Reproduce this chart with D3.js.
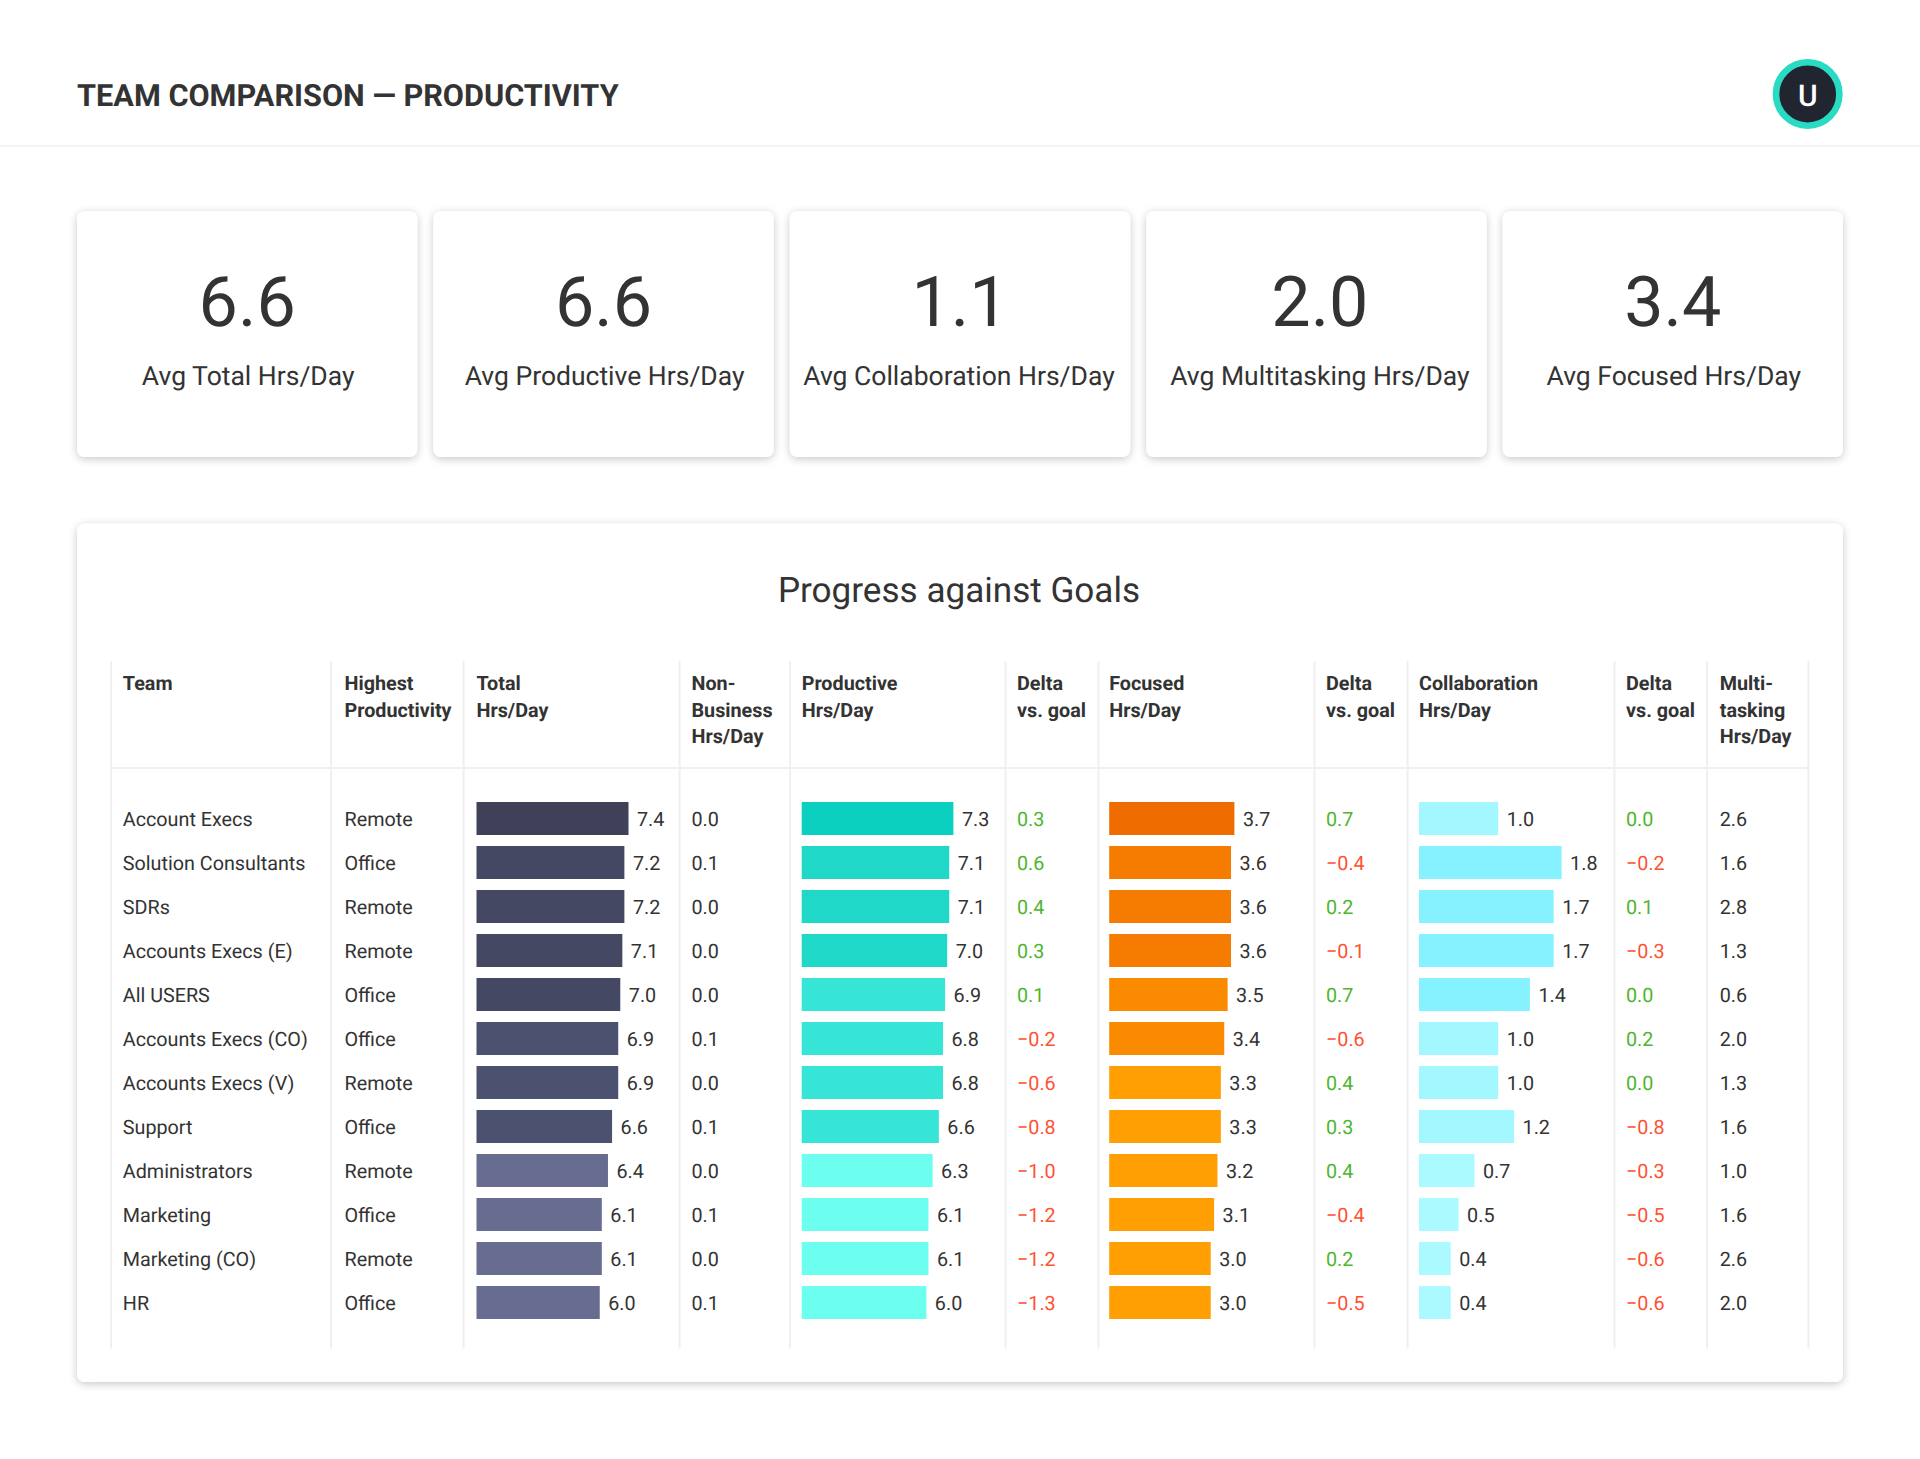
<!DOCTYPE html>
<html>
<head>
<meta charset="utf-8">
<script src="https://d3js.org/d3.v7.min.js"></script>
<style>
html, body { margin: 0; padding: 0; background: #fff; }
svg { display: block; font-family: Roboto, sans-serif; text-rendering: geometricPrecision; }
</style>
</head>
<body>
<div id="content"></div>
<script>
var w = 1920;
var h = 1459;

var pageTitle = "TEAM COMPARISON \u2014 PRODUCTIVITY";
var panelTitle = "Progress against Goals";
var avatarLetter = "U";

var cardValues = ["6.6", "6.6", "1.1", "2.0", "3.4"];
var cardLabels = ["Avg Total Hrs/Day", "Avg Productive Hrs/Day", "Avg Collaboration Hrs/Day", "Avg Multitasking Hrs/Day", "Avg Focused Hrs/Day"];

var teams = ["Account Execs", "Solution Consultants", "SDRs", "Accounts Execs (E)", "All USERS", "Accounts Execs (CO)", "Accounts Execs (V)", "Support", "Administrators", "Marketing", "Marketing (CO)", "HR"];
var highest = ["Remote", "Office", "Remote", "Remote", "Office", "Office", "Remote", "Office", "Remote", "Office", "Remote", "Office"];
var totalHrs = [7.4, 7.2, 7.2, 7.1, 7.0, 6.9, 6.9, 6.6, 6.4, 6.1, 6.1, 6.0];
var nonBusiness = [0.0, 0.1, 0.0, 0.0, 0.0, 0.1, 0.0, 0.1, 0.0, 0.1, 0.0, 0.1];
var productive = [7.3, 7.1, 7.1, 7.0, 6.9, 6.8, 6.8, 6.6, 6.3, 6.1, 6.1, 6.0];
var productiveDelta = [0.3, 0.6, 0.4, 0.3, 0.1, -0.2, -0.6, -0.8, -1.0, -1.2, -1.2, -1.3];
var focused = [3.7, 3.6, 3.6, 3.6, 3.5, 3.4, 3.3, 3.3, 3.2, 3.1, 3.0, 3.0];
var focusedDelta = [0.7, -0.4, 0.2, -0.1, 0.7, -0.6, 0.4, 0.3, 0.4, -0.4, 0.2, -0.5];
var collaboration = [1.0, 1.8, 1.7, 1.7, 1.4, 1.0, 1.0, 1.2, 0.7, 0.5, 0.4, 0.4];
var collaborationDelta = [0.0, -0.2, 0.1, -0.3, 0.0, 0.2, 0.0, -0.8, -0.3, -0.5, -0.6, -0.6];
var multitasking = [2.6, 1.6, 2.8, 1.3, 0.6, 2.0, 1.3, 1.6, 1.0, 1.6, 2.6, 2.0];

// column edges of the table, and what goes in each one
var colEdges = [111, 331, 463.5, 679.5, 790, 1005.5, 1098.5, 1314.5, 1407.5, 1614.5, 1707, 1808.5];
var columns = [
    { x: 122.8, head: ["Team"], kind: "text", values: teams },
    { x: 344.5, head: ["Highest", "Productivity"], kind: "text", values: highest },
    { x: 476.5, head: ["Total", "Hrs/Day"], kind: "bar", values: totalHrs, max: 7.4, width: 152, color: d3.scaleThreshold().domain([6.5, 6.95, 7.3]).range(["#676c90", "#4d5170", "#444862", "#3f4159"]) },
    { x: 691.5, head: ["Non-", "Business", "Hrs/Day"], kind: "num", values: nonBusiness },
    { x: 801.7, head: ["Productive", "Hrs/Day"], kind: "bar", values: productive, max: 7.3, width: 151.7, color: d3.scaleThreshold().domain([6.5, 6.95, 7.2]).range(["#6cfff0", "#36e5d6", "#20d8c8", "#0bcfbf"]) },
    { x: 1017, head: ["Delta", "vs. goal"], kind: "delta", values: productiveDelta },
    { x: 1109.2, head: ["Focused", "Hrs/Day"], kind: "bar", values: focused, max: 3.7, width: 125.2, color: d3.scaleThreshold().domain([3.35, 3.55, 3.65]).range(["#ff9f04", "#fa8b00", "#f57c00", "#ee6c00"]) },
    { x: 1326, head: ["Delta", "vs. goal"], kind: "delta", values: focusedDelta },
    { x: 1419, head: ["Collaboration", "Hrs/Day"], kind: "bar", values: collaboration, max: 1.8, width: 142.6, color: d3.scaleThreshold().domain([0.8, 1.3]).range(["#abfaff", "#a3f7ff", "#87f2ff"]) },
    { x: 1626, head: ["Delta", "vs. goal"], kind: "delta", values: collaborationDelta },
    { x: 1719.7, head: ["Multi-", "tasking", "Hrs/Day"], kind: "num", values: multitasking }
];

var textColor = "#333333";
var lineColor = "#f0f0f0";
var green = "#4fb52f";
var red = "#ff5233";
var rowH = 44;
var barH = 33;
var cardShift = [1, 1, -1, 3.5, 1];

var svg = d3.select("#content").append("svg").attr("width", w).attr("height", h).attr("viewBox", "0 0 " + w + " " + h);

// soft shadow under the cards
var shadow = svg.append("defs").append("filter").attr("id", "shadow")
    .attr("x", "-5%").attr("y", "-5%").attr("width", "110%").attr("height", "115%");
shadow.append("feDropShadow").attr("dx", 0).attr("dy", 2).attr("stdDeviation", 4)
    .attr("flood-color", "#000").attr("flood-opacity", 0.22);

function drawHeader() {
    svg.append("text").attr("x", 77).attr("y", 105.5)
        .attr("font-size", 30.7).attr("font-weight", 700).attr("fill", textColor).text(pageTitle);
    svg.append("line").attr("x1", 0).attr("x2", w).attr("y1", 146).attr("y2", 146)
        .attr("stroke", lineColor).attr("stroke-width", 1.5);
    svg.append("circle").attr("cx", 1807.7).attr("cy", 94).attr("r", 31.7)
        .attr("fill", "#212530").attr("stroke", "#2adbc3").attr("stroke-width", 6.6);
    svg.append("text").attr("x", 1807.7).attr("y", 106).attr("text-anchor", "middle")
        .attr("font-size", 30).attr("font-weight", 500).attr("fill", "#fff").text(avatarLetter);
}

function drawCards() {
    var cardX = d3.scaleBand().domain(d3.range(cardValues.length)).range([77, 1843]).paddingInner(16 / 356);
    var card = svg.selectAll("g.card").data(cardValues).enter().append("g").attr("class", "card")
        .attr("transform", (d, i) => "translate(" + cardX(i) + ",211)");
    card.append("rect").attr("width", cardX.bandwidth()).attr("height", 246).attr("rx", 8)
        .attr("fill", "#fff").attr("filter", "url(#shadow)");
    card.append("text").attr("x", (d, i) => cardX.bandwidth() / 2 + (i == 3 ? cardShift[i] : 0)).attr("y", 115).attr("text-anchor", "middle")
        .attr("font-size", 70).attr("fill", textColor).text(d => d);
    card.append("text").attr("x", (d, i) => cardX.bandwidth() / 2 + cardShift[i]).attr("y", 174).attr("text-anchor", "middle")
        .attr("font-size", 26.5).attr("fill", textColor).text((d, i) => cardLabels[i]);
}

function drawTable() {
    svg.append("rect").attr("x", 77).attr("y", 523.5).attr("width", 1766).attr("height", 858.5).attr("rx", 8)
        .attr("fill", "#fff").attr("filter", "url(#shadow)");
    svg.append("text").attr("x", 959).attr("y", 602).attr("text-anchor", "middle")
        .attr("font-size", 35.1).attr("fill", textColor).text(panelTitle);

    // grid lines
    svg.selectAll("line.col").data(colEdges).enter().append("line").attr("class", "col")
        .attr("x1", d => d).attr("x2", d => d).attr("y1", 661).attr("y2", 1348.5)
        .attr("stroke", lineColor).attr("stroke-width", 2);
    svg.append("line").attr("x1", 111).attr("x2", 1808.5).attr("y1", 768).attr("y2", 768)
        .attr("stroke", lineColor).attr("stroke-width", 2);

    var rowY = d3.scaleBand().domain(d3.range(teams.length)).range([802, 802 + rowH * teams.length]);

    columns.forEach(function (col) {
        var g = svg.append("g").attr("transform", "translate(" + col.x + ",0)");

        g.append("text").attr("font-size", 19.75).attr("font-weight", 700).attr("fill", textColor)
            .selectAll("tspan").data(col.head).enter().append("tspan")
            .attr("x", 0).attr("y", (d, i) => 690 + i * 26.5).text(d => d);

        var barX = col.kind == "bar" ? d3.scaleLinear().domain([0, col.max]).range([0, col.width]) : null;

        var row = g.selectAll("g.row").data(col.values).enter().append("g").attr("class", "row")
            .attr("transform", (d, i) => "translate(0," + rowY(i) + ")");

        if (barX) {
            row.append("rect").attr("width", d => barX(d)).attr("height", barH).attr("fill", d => col.color(d));
        }
        row.append("text").attr("x", d => barX ? barX(d) + 8.5 : 0).attr("y", 24)
            .attr("font-size", 19.75)
            .attr("fill", d => col.kind == "delta" ? (d < 0 ? red : green) : textColor)
            .text(d => col.kind == "text" ? d : (d < 0 ? "\u2212" + Math.abs(d).toFixed(1) : d.toFixed(1)));
    });
}

drawHeader();
drawCards();
drawTable();
</script>
</body>
</html>
